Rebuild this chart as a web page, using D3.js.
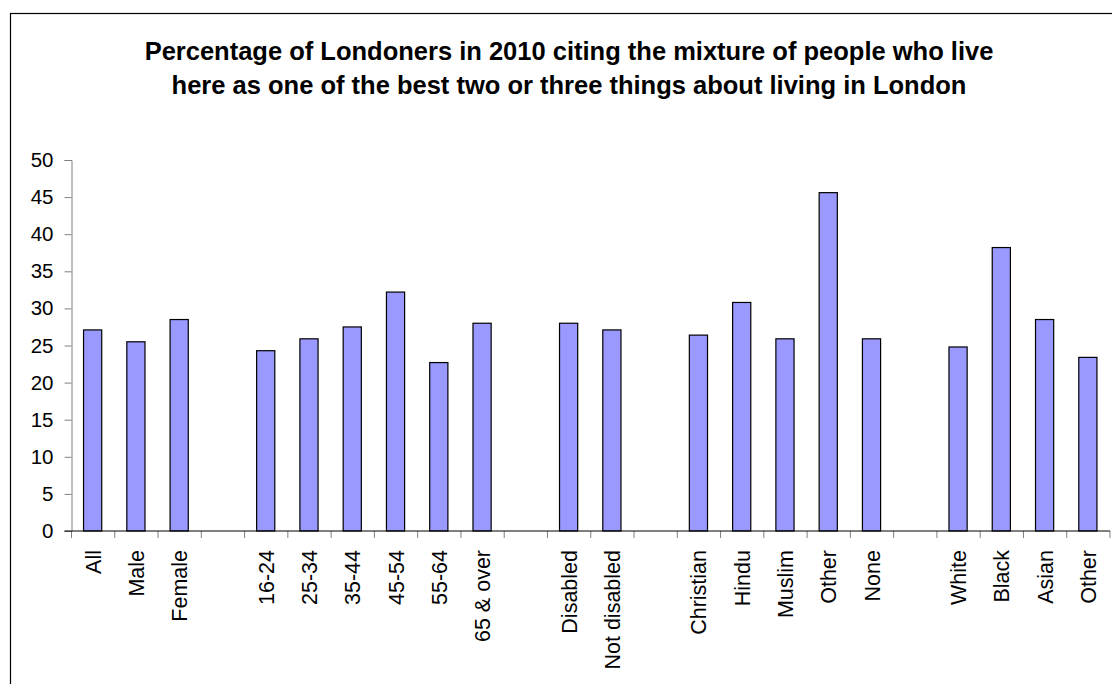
<!DOCTYPE html>
<html>
<head>
<meta charset="utf-8">
<script src="https://cdn.jsdelivr.net/npm/d3@7"></script>
<style>
  html, body { margin: 0; padding: 0; background: #fff; }
  svg { display: block; font-family: "Liberation Sans", Arial, sans-serif; }
</style>
</head>
<body>
<svg id="chart" width="1112" height="684"></svg>
<script>
// Survey groups: labels and percentages, one pair of arrays per group
const genderLabels = ["All", "Male", "Female"];
const genderValues = [27.1, 25.5, 28.5];

const ageLabels = ["16-24", "25-34", "35-44", "45-54", "55-64", "65 & over"];
const ageValues = [24.3, 25.9, 27.5, 32.2, 22.7, 28.0];

const disabilityLabels = ["Disabled", "Not disabled"];
const disabilityValues = [28.0, 27.1];

const religionLabels = ["Christian", "Hindu", "Muslim", "Other", "None"];
const religionValues = [26.4, 30.8, 25.9, 45.6, 25.9];

const ethnicityLabels = ["White", "Black", "Asian", "Other"];
const ethnicityValues = [24.8, 38.2, 28.5, 23.4];

const yTicks = [0, 5, 10, 15, 20, 25, 30, 35, 40, 45, 50];

const titleLines = [
  "Percentage of Londoners in 2010 citing the mixture of people who live",
  "here as one of the best two or three things about living in London"
];

// Build a flat list of slots, with an empty slot between consecutive groups
const groups = [
  [genderLabels, genderValues],
  [ageLabels, ageValues],
  [disabilityLabels, disabilityValues],
  [religionLabels, religionValues],
  [ethnicityLabels, ethnicityValues]
];
const slots = [];
groups.forEach(([labels, values], gi) => {
  if (gi > 0) slots.push({ key: "gap" + gi, label: "", value: null });
  labels.forEach((l, i) => slots.push({ key: gi + "-" + i, label: l, value: values[i] }));
});

const svg = d3.select("#chart");

// Outer chart frame
svg.append("rect")
  .attr("x", 10.5).attr("y", 13.5)
  .attr("width", 1200).attr("height", 1000)
  .attr("fill", "#fff")
  .attr("stroke", "#000")
  .attr("stroke-width", 1.2);

const plot = { left: 71.5, right: 1110, top: 160, bottom: 531 };

const x = d3.scaleBand()
  .domain(slots.map(d => d.key))
  .range([plot.left, plot.right])
  .paddingInner(0)
  .paddingOuter(0);

const y = d3.scaleLinear()
  .domain([0, 50])
  .range([plot.bottom, plot.top]);

// Title
const title = svg.append("text")
  .attr("text-anchor", "middle")
  .attr("font-weight", "bold")
  .attr("font-size", 25.5)
  .attr("fill", "#000");
titleLines.forEach((t, i) => {
  title.append("tspan").attr("x", 569).attr("y", 60 + i * 34).text(t);
});

// Y axis
const yAxis = svg.append("g")
  .attr("transform", `translate(${plot.left},0)`)
  .call(d3.axisLeft(y).tickValues(yTicks).tickSize(7).tickPadding(11).tickFormat(d3.format("d")));
yAxis.select(".domain").attr("stroke", "#808080").attr("stroke-width", 1);
yAxis.selectAll(".tick line").attr("stroke", "#808080");
yAxis.selectAll(".tick text")
  .attr("font-size", 20.5)
  .attr("font-family", "'Liberation Sans', Arial, sans-serif")
  .attr("fill", "#000");

// Bars
const barW = x.bandwidth() * 0.42;
svg.append("g")
  .selectAll("rect")
  .data(slots.filter(d => d.value !== null))
  .join("rect")
  .attr("x", d => x(d.key) + (x.bandwidth() - barW) / 2 - 0.5)
  .attr("y", d => y(d.value))
  .attr("width", barW)
  .attr("height", d => y(0) - y(d.value))
  .attr("fill", "#9999FF")
  .attr("stroke", "#000")
  .attr("stroke-width", 1.2);

// X axis: ticks at every slot boundary
const boundaries = slots.map(d => x(d.key)).concat([plot.right]);
const xAxisG = svg.append("g");
xAxisG.selectAll("line.tick")
  .data(boundaries)
  .join("line")
  .attr("class", "tick")
  .attr("x1", d => d).attr("x2", d => d)
  .attr("y1", plot.bottom).attr("y2", plot.bottom + 7)
  .attr("stroke", "#808080");
xAxisG.append("line")
  .attr("x1", plot.left - 7).attr("x2", plot.right)
  .attr("y1", plot.bottom).attr("y2", plot.bottom)
  .attr("stroke", "#000")
  .attr("stroke-width", 1.2);

// Rotated category labels
svg.append("g")
  .selectAll("text")
  .data(slots.filter(d => d.label))
  .join("text")
  .attr("transform", d => `translate(${x(d.key) + x.bandwidth() / 2},${plot.bottom + 19}) rotate(-90)`)
  .attr("text-anchor", "end")
  .attr("dy", "0.35em")
  .attr("font-size", 21.5)
  .attr("fill", "#000")
  .text(d => d.label);
</script>
</body>
</html>
